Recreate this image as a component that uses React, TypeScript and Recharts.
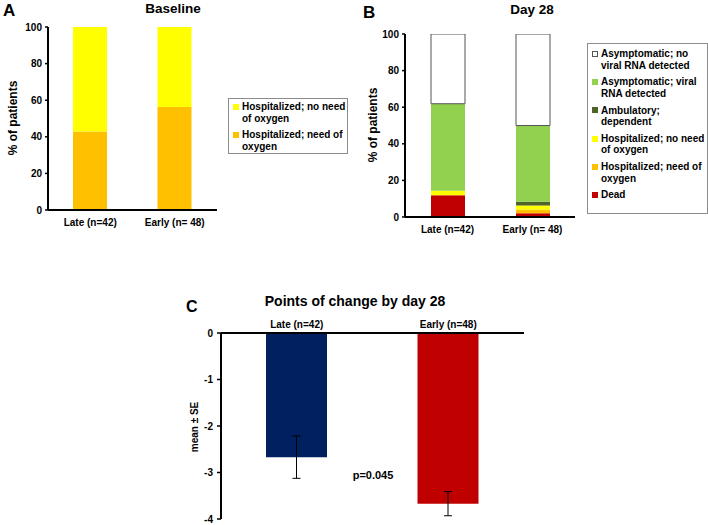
import React from 'react';
import { BarChart, Bar, XAxis, YAxis, ErrorBar, Cell } from 'recharts';

// panel A - baseline
const groupsAB = ['Late (n=42)', 'Early (n= 48)'];
const baselineNeedOxygen = [42.9, 56.3];
const baselineNoNeedOxygen = [57.1, 43.7];

// panel B - day 28 (% of patients)
const day28Dead = [11.9, 2.08];
const day28NeedOxygen = [0, 2.08];
const day28NoNeedOxygen = [2.38, 2.08];
const day28Ambulatory = [0, 2.08];
const day28AsymViral = [47.62, 41.67];
const day28AsymNoViral = [38.1, 50.0];

// panel C - points of change
const groupsC = ['Late (n=42)', 'Early (n=48)'];
const changeMean = [-2.67, -3.67];
const changeSE = [0.455, 0.26];

const pctTicks = [0, 20, 40, 60, 80, 100];
const changeTicks = [0, -1, -2, -3, -4];

const FONT = '"Liberation Sans", Arial, sans-serif';

const dataA = groupsAB.map((g, i) => ({
  group: g,
  needOxygen: baselineNeedOxygen[i],
  noNeedOxygen: baselineNoNeedOxygen[i],
}));

const dataB = groupsAB.map((g, i) => ({
  group: g,
  dead: day28Dead[i],
  needOxygen: day28NeedOxygen[i],
  noNeedOxygen: day28NoNeedOxygen[i],
  ambulatory: day28Ambulatory[i],
  asymViral: day28AsymViral[i],
  asymNoViral: day28AsymNoViral[i],
}));

const dataC = groupsC.map((g, i) => ({ group: g, mean: changeMean[i], se: changeSE[i] }));
const colorsC = ['#002060', '#C00000'];

// bottom to top
const seriesA = [
  { key: 'needOxygen', name: 'Hospitalized; need of oxygen', color: '#FFC000' },
  { key: 'noNeedOxygen', name: 'Hospitalized; no need of oxygen', color: '#FFFF00' },
];

const seriesB = [
  { key: 'dead', name: 'Dead', color: '#C00000' },
  { key: 'needOxygen', name: 'Hospitalized; need of oxygen', color: '#FFC000' },
  { key: 'noNeedOxygen', name: 'Hospitalized; no need of oxygen', color: '#FFFF00' },
  { key: 'ambulatory', name: 'Ambulatory; dependent', color: '#4F6228' },
  { key: 'asymViral', name: 'Asymptomatic; viral RNA detected', color: '#92D050' },
  { key: 'asymNoViral', name: 'Asymptomatic; no viral RNA detected', color: '#FFFFFF', stroke: '#555' },
];

const tickStyle = { fontSize: 10, fontWeight: 'bold', fill: '#000' };
const axisLine = { stroke: '#000', strokeWidth: 2 };

interface LegendBoxProps {
  items: { name: string; color: string; stroke?: string }[];
  left: number;
  top: number;
  width: number;
  height: number;
  lineHeight: number;
  gap: number;
  padTop: number;
}

const LegendBox: React.FC<LegendBoxProps> = ({ items, left, top, width, height, lineHeight, gap, padTop }) => (
  <div
    style={{
      position: 'absolute',
      left,
      top,
      width,
      height,
      boxSizing: 'border-box',
      border: '1px solid #8c8c8c',
      paddingTop: padTop,
      paddingLeft: 4,
      fontSize: 10,
      fontWeight: 'bold',
      lineHeight: `${lineHeight}px`,
    }}
  >
    {items.map((it, i) => (
      <div key={it.name} style={{ display: 'flex', alignItems: 'flex-start', marginTop: i === 0 ? 0 : gap }}>
        <div
          style={{
            width: 6,
            height: 6,
            boxSizing: 'border-box',
            marginTop: (lineHeight - 6) / 2,
            marginRight: 3,
            background: it.color,
            border: it.stroke ? `1px solid ${it.stroke}` : 'none',
            flexShrink: 0,
          }}
        />
        <div style={{ width: 104 }}>{it.name}</div>
      </div>
    ))}
  </div>
);

const Text: React.FC<{ x: number; y: number; size: number; children: React.ReactNode; center?: boolean; rotate?: boolean }> = ({
  x,
  y,
  size,
  children,
  center,
  rotate,
}) => (
  <div
    style={{
      position: 'absolute',
      left: x,
      top: y,
      fontSize: size,
      fontWeight: 'bold',
      whiteSpace: 'nowrap',
      lineHeight: 1,
      transform: rotate
        ? 'translate(-50%, -50%) rotate(-90deg)'
        : center
        ? 'translate(-50%, -50%)'
        : 'translateY(-50%)',
    }}
  >
    {children}
  </div>
);

export default function App() {
  return (
    <div
      style={{
        position: 'absolute',
        left: 0,
        top: 0,
        width: 708,
        height: 525,
        background: '#fff',
        fontFamily: FONT,
        color: '#000',
        overflow: 'hidden',
      }}
    >
      {/* Panel A */}
      <Text x={3} y={10} size={17}>A</Text>
      <Text x={173} y={9} size={13.5} center>Baseline</Text>
      <Text x={13} y={118} size={12} rotate>% of patients</Text>
      <div style={{ position: 'absolute', left: 0, top: 0 }}>
        <BarChart width={230} height={235} data={dataA} margin={{ top: 27, right: 13, bottom: 5, left: 10 }}>
          <XAxis
            dataKey="group"
            tick={tickStyle}
            tickLine={false}
            tickSize={0}
            tickMargin={9}
            height={20}
            axisLine={axisLine}
          />
          <YAxis
            domain={[0, 100]}
            ticks={pctTicks}
            tick={tickStyle}
            tickSize={3}
            tickMargin={3}
            width={38}
            axisLine={axisLine}
            tickLine={{ stroke: '#000', strokeWidth: 1.5 }}
          />
          {seriesA.map((s) => (
            <Bar key={s.key} dataKey={s.key} name={s.name} stackId="a" fill={s.color} barSize={34} isAnimationActive={false} />
          ))}
        </BarChart>
      </div>
      <LegendBox
        items={[...seriesA].reverse()}
        left={228}
        top={98}
        width={120}
        height={56}
        lineHeight={12}
        gap={4}
        padTop={2}
      />

      {/* Panel B */}
      <Text x={363} y={12} size={17}>B</Text>
      <Text x={532} y={10} size={13.5} center>Day 28</Text>
      <Text x={373} y={125} size={12} rotate>% of patients</Text>
      <div style={{ position: 'absolute', left: 357, top: 0 }}>
        <BarChart width={225} height={245} data={dataB} margin={{ top: 34, right: 7, bottom: 6, left: 8 }}>
          <XAxis
            dataKey="group"
            tick={tickStyle}
            tickLine={false}
            tickSize={0}
            tickMargin={9}
            height={22}
            axisLine={axisLine}
          />
          <YAxis
            domain={[0, 100]}
            ticks={pctTicks}
            tick={tickStyle}
            tickSize={3}
            tickMargin={3}
            width={40}
            axisLine={axisLine}
            tickLine={{ stroke: '#000', strokeWidth: 1.5 }}
            allowDataOverflow
          />
          {seriesB.map((s) => (
            <Bar
              key={s.key}
              dataKey={s.key}
              name={s.name}
              stackId="b"
              fill={s.color}
              stroke={s.stroke}
              strokeWidth={s.stroke ? 1 : 0}
              barSize={34}
              isAnimationActive={false}
            />
          ))}
        </BarChart>
      </div>
      <LegendBox
        items={[...seriesB].reverse()}
        left={587}
        top={43}
        width={121}
        height={171}
        lineHeight={11.5}
        gap={5.3}
        padTop={4}
      />

      {/* Panel C */}
      <Text x={186} y={307} size={16}>C</Text>
      <Text x={355} y={301} size={14} center>Points of change by day 28</Text>
      <Text x={195} y={427} size={10} rotate>mean ± SE</Text>
      <Text x={373} y={475} size={11} center>p=0.045</Text>
      <div style={{ position: 'absolute', left: 150, top: 280 }}>
        <BarChart width={380} height={245} data={dataC} margin={{ top: 33, right: 6, bottom: 6, left: 33 }}>
          <XAxis
            dataKey="group"
            orientation="top"
            tick={tickStyle}
            tickLine={false}
            tickSize={0}
            tickMargin={5}
            height={20}
            axisLine={axisLine}
          />
          <YAxis
            domain={[-4, 0]}
            ticks={changeTicks}
            tick={tickStyle}
            tickSize={4}
            tickMargin={4}
            width={38}
            axisLine={axisLine}
            tickLine={{ stroke: '#000', strokeWidth: 1.5 }}
          />
          <Bar dataKey="mean" barSize={61} isAnimationActive={false}>
            {dataC.map((d, i) => (
              <Cell key={d.group} fill={colorsC[i]} />
            ))}
            <ErrorBar dataKey="se" width={4} stroke="#000" strokeWidth={1} direction="y" />
          </Bar>
        </BarChart>
      </div>
    </div>
  );
}
